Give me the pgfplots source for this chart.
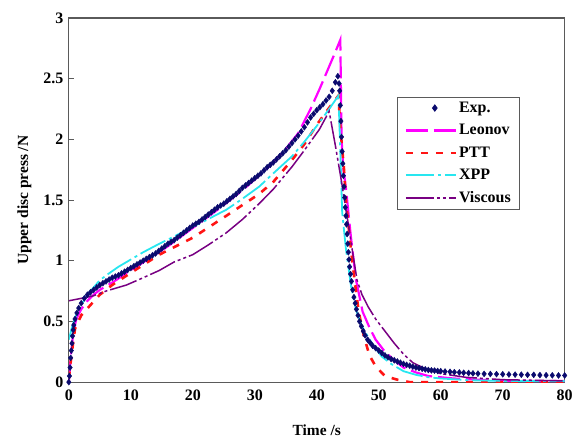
\documentclass[border=0pt]{standalone}
\usepackage{fontspec}
\setmainfont{Liberation Serif}
\usepackage{pgfplots}
\pgfplotsset{compat=1.18}

\definecolor{expblue}{RGB}{10,10,110}
\definecolor{leonov}{RGB}{255,0,255}
\definecolor{ptt}{RGB}{255,20,20}
\definecolor{xpp}{RGB}{40,230,240}
\definecolor{visc}{RGB}{120,0,130}
\definecolor{frame}{RGB}{90,90,90}

\pgfplotsset{
    myexpleg/.style={legend image code/.code={\draw[##1] plot coordinates {(29pt,0pt)};}},
    mylineleg/.style={legend image code/.code={\draw[##1] (0pt,0pt) -- (50pt,0pt);}},
}

\begin{document}
\begin{tikzpicture}
\begin{axis}[
    width=497pt, height=365pt, scale only axis,
    xmin=0, xmax=80, ymin=0, ymax=3,
    xtick={0,10,...,80},
    ytick={0,0.5,...,3},
    axis line style={draw=frame, line width=1.2pt},
    tick align=inside,
    ytick pos=left, xtick pos=left,
    major tick length=5pt,
    ytick style={draw=frame, line width=1pt},
    xtick style={draw=none},
    /pgf/number format/assume math mode=true,
    tick label style={font=\fontsize{16}{18}\selectfont\bfseries},
    xticklabel style={yshift=-4pt},
    yticklabel style={xshift=-2pt},
    xlabel={Time /s},
    ylabel={Upper disc press /N},
    label style={font=\fontsize{15.5}{18}\selectfont\bfseries},
    xlabel style={yshift=-18pt},
    ylabel style={yshift=5pt},
    legend cell align=left,
    legend style={at={(0.662,0.784)}, anchor=north west,
        draw=frame, line width=1pt, inner xsep=7pt, inner ysep=3pt,
        font=\fontsize{16}{18}\selectfont\bfseries,
        row sep=6.5pt},
    mylineleg,
]
% Exp.
\addplot[only marks, mark=diamond*, mark size=3pt, color=expblue, myexpleg]
coordinates {
(0,0) (0.1,0.05) (0.2,0.12) (0.3,0.2) (0.4,0.26) (0.5,0.32) (0.6,0.38)
(0.7,0.43) (0.8,0.47) (1.0,0.52) (1.3,0.57) (1.6,0.61) (2.0,0.65)
(2.5,0.69) (3,0.72) (3.5,0.74) (4,0.76) (4.5,0.78)
(5,0.80) (5.5,0.815) (6,0.83) (6.5,0.845) (7,0.86) (7.5,0.87) (8,0.88)
(8.5,0.895) (9,0.91) (9.5,0.925) (10,0.94) (10.5,0.955) (11,0.97)
(11.5,0.985) (12,1.00) (12.5,1.015) (13,1.03) (13.5,1.045) (14,1.06)
(14.5,1.08) (15,1.10) (15.5,1.12) (16,1.14) (16.5,1.155) (17,1.17)
(17.5,1.19) (18,1.21) (18.5,1.23) (19,1.25) (19.5,1.27) (20,1.29)
(20.5,1.305) (21,1.32) (21.5,1.34) (22,1.36) (22.5,1.38) (23,1.40)
(23.5,1.42) (24,1.44) (24.5,1.455) (25,1.47) (25.5,1.49) (26,1.51)
(26.5,1.53) (27,1.55) (27.5,1.575) (28,1.60) (28.5,1.62) (29,1.64)
(29.5,1.66) (30,1.68) (30.5,1.70) (31,1.72) (31.5,1.745) (32,1.77)
(32.5,1.79) (33,1.81) (33.5,1.835) (34,1.86) (34.5,1.885) (35,1.91)
(35.5,1.94) (36,1.97) (36.5,2.00) (37,2.03) (37.5,2.065) (38,2.10)
(38.5,2.14) (39,2.18) (39.5,2.21) (40,2.24) (40.5,2.265) (41,2.29)
(41.5,2.32) (42,2.35) (42.5,2.40) (43,2.47) (43.4,2.52)
(43.6,2.46) (43.7,2.40) (43.8,2.28) (43.9,2.15) (44.0,2.02) (44.1,1.90)
(44.2,1.80) (44.3,1.70) (44.4,1.61) (44.5,1.52) (44.6,1.44) (44.7,1.37)
(44.8,1.30) (44.9,1.22) (45.0,1.14) (45.1,1.07) (45.2,1.01) (45.3,0.95)
(45.45,0.89) (45.6,0.83) (45.8,0.76) (46.0,0.70) (46.2,0.65) (46.4,0.60)
(46.65,0.55) (46.9,0.50) (47.2,0.46) (47.5,0.42) (47.8,0.385) (48.2,0.35)
(48.6,0.325) (49,0.30) (49.5,0.28) (50,0.26) (50.5,0.24) (51,0.22)
(51.5,0.205) (52,0.19) (52.5,0.18) (53,0.17) (53.5,0.16) (54,0.15)
(54.5,0.142) (55,0.135) (55.5,0.127) (56,0.12) (56.5,0.115) (57,0.11)
(57.5,0.105) (58,0.10) (58.5,0.097) (59,0.095) (59.5,0.092) (60,0.09)
(60.7,0.087) (61.5,0.085) (62.2,0.082) (63,0.08) (63.7,0.077) (64.5,0.075)
(65.2,0.072) (66,0.07) (67,0.068) (68,0.067) (69,0.066) (70,0.065)
(71,0.063) (72,0.062) (73,0.061) (74,0.06) (75,0.06) (76,0.058)
(77,0.057) (78,0.056) (79,0.055) (80,0.055)
};
\addlegendentry{Exp.}
% Leonov
\addplot[color=leonov, line width=2.2pt, dash pattern=on 22pt off 6pt]
coordinates {
(0,0) (0.3,0.2) (0.7,0.4) (1.2,0.52) (2,0.6) (3,0.67) (4,0.72) (5,0.76)
(7,0.82) (10,0.92) (13,1.02) (16,1.12) (20,1.27) (24,1.42) (28,1.58)
(32,1.76) (35,1.92) (37,2.05) (39,2.25) (40.5,2.42) (42,2.6) (43,2.72)
(43.8,2.82) (44.0,2.0) (44.3,1.75) (44.7,1.6) (45.5,1.2) (46.3,0.85)
(47.4,0.58) (48.5,0.45) (49.5,0.35) (51,0.25) (52.5,0.18) (54,0.12)
(56,0.08) (58,0.05) (62,0.03) (66,0.02) (72,0.01) (80,0.01)
};
\addlegendentry{Leonov}
% PTT
\addplot[color=ptt, line width=2.6pt, dash pattern=on 7pt off 8pt]
coordinates {
(0,0.03) (0.5,0.25) (1,0.44) (2,0.55) (3.4,0.63) (5,0.72) (7,0.8)
(10,0.9) (14.6,1.05) (17.3,1.12) (20,1.19) (25.4,1.37) (30.7,1.55)
(33,1.65) (36,1.83) (38,1.96) (40,2.12) (42,2.26) (43.5,2.36)
(43.8,2.1) (44.4,1.75) (44.7,1.5) (45.5,1.1) (46.2,0.8) (46.8,0.57)
(47.6,0.38) (48.5,0.22) (49.5,0.13) (51,0.05) (53,0.02) (55,0.0) (80,0.0)
};
\addlegendentry{PTT}
% XPP
\addplot[color=xpp, line width=1.8pt, dash pattern=on 28pt off 4pt on 3pt off 4pt]
coordinates {
(0,0.35) (0.5,0.45) (1,0.53) (1.8,0.62) (3,0.72) (4,0.78) (5,0.84)
(6.6,0.90) (8,0.95) (10,1.01) (12,1.07) (14.6,1.14) (17,1.2) (20,1.28)
(22,1.33) (25.4,1.42) (28,1.51) (30.7,1.61) (33,1.72) (36,1.86)
(38,1.98) (40,2.11) (42,2.25) (43.5,2.36) (43.8,1.9) (44.1,1.4)
(44.7,1.1) (45.5,0.80) (46.3,0.60) (47.3,0.46) (48.3,0.37) (49.3,0.29)
(50.5,0.21) (52,0.15) (54,0.09) (56,0.06) (58,0.04) (60,0.03)
(65,0.015) (70,0.01) (80,0.01)
};
\addlegendentry{XPP}
% Viscous
\addplot[color=visc, line width=1.5pt,
    dash pattern=on 28pt off 3pt on 3pt off 3pt on 3pt off 3pt]
coordinates {
(0,0.67) (2,0.69) (3.9,0.71) (6,0.75) (9.3,0.80) (12,0.86) (14.6,0.92)
(17,0.99) (20,1.05) (22.5,1.13) (25.4,1.23) (28,1.34) (30.7,1.47)
(33,1.59) (36.1,1.78) (38,1.91) (40.4,2.08) (42,2.23) (43,1.95)
(44,1.65) (45,1.33) (46,1.0) (46.5,0.84) (47.3,0.72) (48.3,0.62)
(49.5,0.52) (51,0.42) (52.5,0.32) (54,0.23) (55.5,0.16) (57.5,0.11)
(60,0.07) (64,0.04) (70,0.02) (80,0.01)
};
\addlegendentry{Viscous}
\coordinate (bbl) at (rel axis cs:-0.1388,-0.1671);
\coordinate (btr) at (rel axis cs:1.0201,1.0493);
\end{axis}
\path (bbl) rectangle (btr);
\end{tikzpicture}
\end{document}
